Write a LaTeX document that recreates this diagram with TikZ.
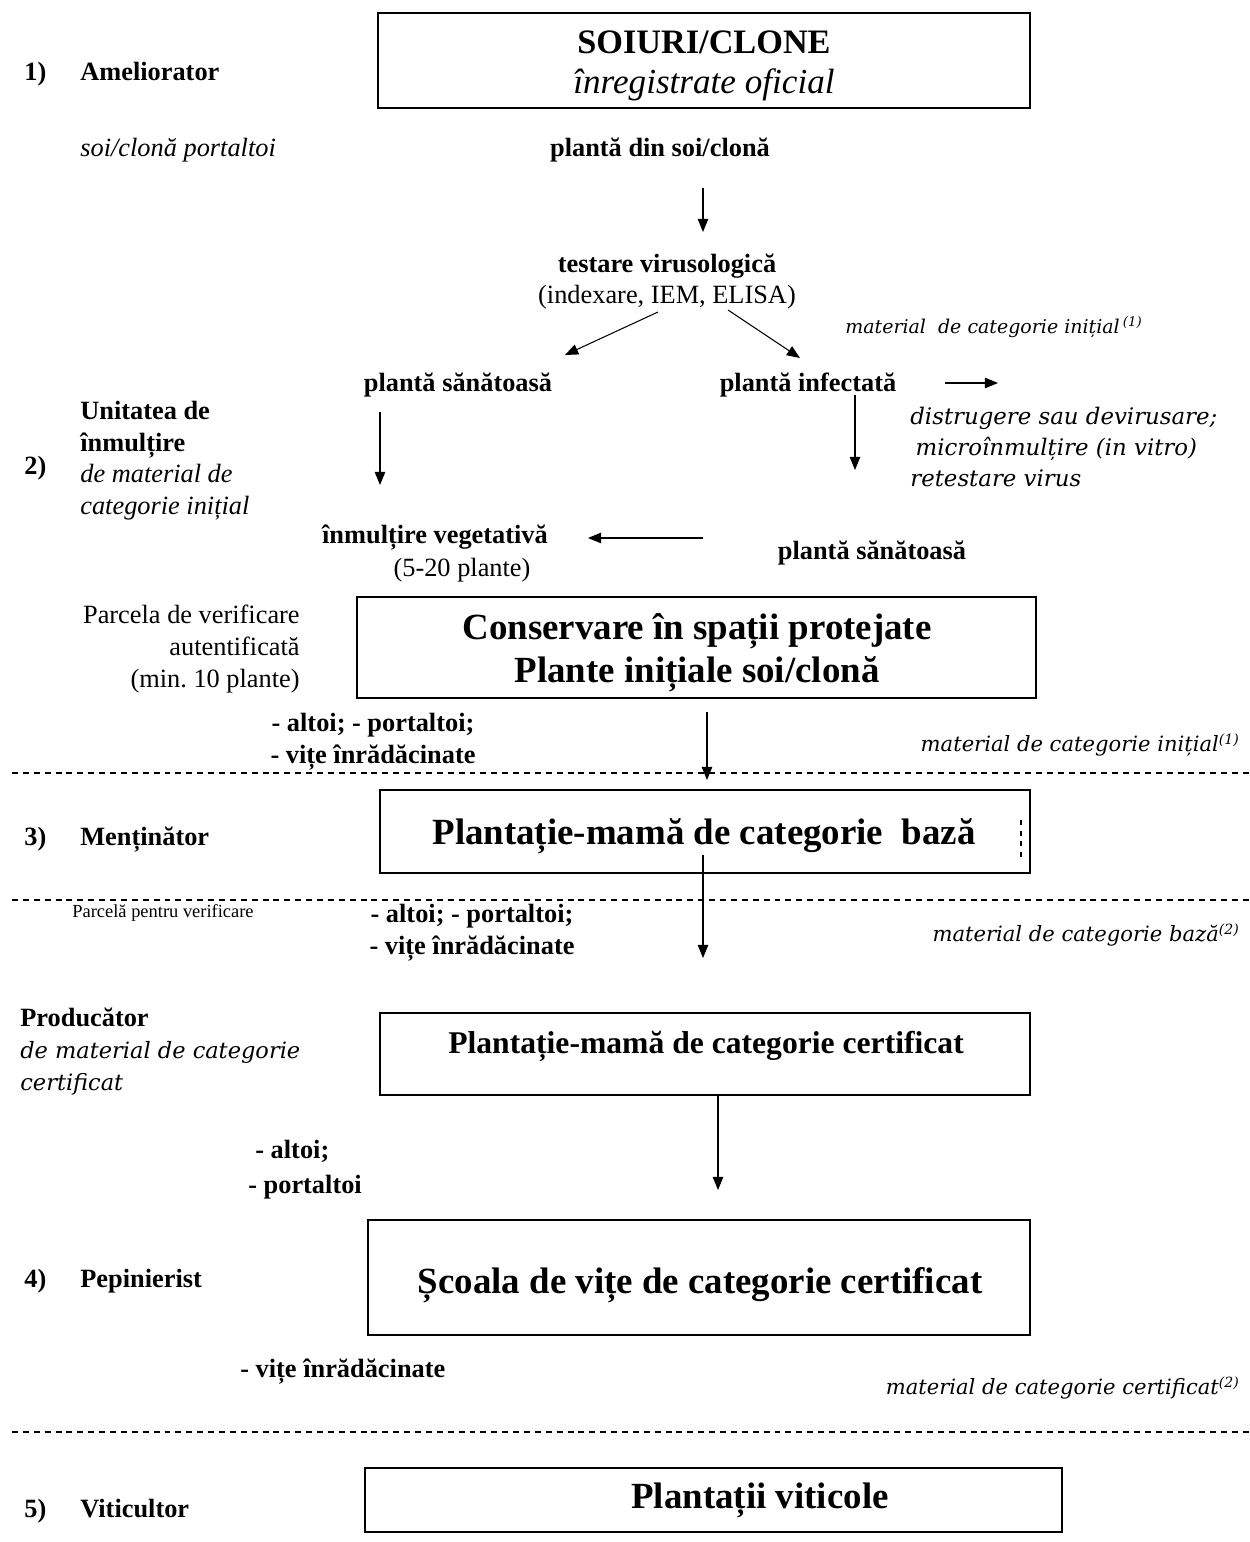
\documentclass[tikz,border=0pt]{standalone}
\usepackage{fontspec}
\setmainfont{Liberation Serif}
\newfontfamily\notefont{DejaVu Serif}
\usetikzlibrary{arrows.meta}

\begin{document}
\begin{tikzpicture}[x=0.02cm, y=-0.02cm,
    lbl/.style={font=\fontsize{15}{18}\selectfont\bfseries, inner sep=0pt},
    role/.style={lbl, anchor=base west},
    txt/.style={font=\fontsize{15}{18}\selectfont, inner sep=0pt},
    itl/.style={font=\fontsize{15}{18}\selectfont\itshape, inner sep=0pt},
    note/.style={font=\fontsize{12}{17.6}\selectfont\notefont\itshape, inner sep=0pt},
    box/.style={draw, line width=1pt, inner sep=0pt},
    big/.style={font=\fontsize{21}{24.5}\selectfont\bfseries, inner sep=0pt, align=center},
    arr/.style={-{Triangle[length=7.5pt,width=6pt]}, line width=0.6pt},
    sepline/.style={line width=0.8pt, dash pattern=on 3.4pt off 2.8pt}]
    \useasboundingbox (0,0) rectangle (1250,1542);

    % 1) ameliorator
    \node [role] (n1) at (24,80) {1)};
    \node [role] (amel) at (80,80) {Ameliorator};
    \node [box, minimum width=13.04cm, minimum height=1.9cm] (soiuri) at (704,60.5) {};
    \node [inner sep=0pt, align=center, font=\fontsize{19.5}{23.2}\selectfont] (soiuritxt) at (704,66)
        {\bfseries SOIURI/CLONE\\ \itshape\fontsize{20}{23.2}\selectfont înregistrate oficial};
    \node [itl, anchor=west] (soiport) at (80,150) {soi/clonă portaltoi};
    \node [lbl] (pdin) at (660,150) {plantă din soi/clonă};

    % testare
    \node [lbl, align=center] (testare) at (667,281.5) {testare virusologică\\ \mdseries(indexare, IEM, ELISA)};
    \node [note, font=\fontsize{10.8}{14}\selectfont\notefont\itshape, anchor=west] (note1) at (845,327)
        {material\ \ de categorie inițial\,\textsuperscript{(1)}};
    \node [lbl] (sanat) at (458,385) {plantă sănătoasă};
    \node [lbl] (infect) at (808,385) {plantă infectată};
    \node [note, font=\fontsize{13}{17.6}\selectfont\notefont\itshape, anchor=west, align=left] (distr) at (910,447)
        {distrugere sau devirusare;\\ \hspace{3pt}microînmulțire (in vitro)\\ retestare virus};

    % 2) unitatea de inmultire
    \node [role] (n2) at (24,474) {2)};
    \node [lbl, anchor=west, align=left] (unit) at (80,460.5)
        {Unitatea de\\ înmulțire\\ \mdseries\itshape de material de\\ \mdseries\itshape categorie inițial};
    \node [lbl] (inmv) at (435,538) {înmulțire vegetativă};
    \node [txt] (inmvn) at (462,570) {(5-20 plante)};
    \node [lbl] (sanat2) at (872,553) {plantă sănătoasă};
    \node [txt, anchor=east, align=right] (parcela) at (300,649)
        {Parcela de verificare\\ autentificată\\ (min.\ 10 plante)};
    \node [box, minimum width=13.58cm, minimum height=2.02cm] (conserv) at (696.5,647.5) {};
    \node [big] (conservtxt) at (697,653) {Conservare în spații protejate\\ Plante inițiale soi/clonă};
    \node [lbl, align=center] (altoi1) at (373,742) {- altoi; - portaltoi;\\ - vițe înrădăcinate};
    \node [note, anchor=east] (note2) at (1240,745) {material de categorie inițial\textsuperscript{(1)}};

    % 3) mentinator
    \node [role] (n3) at (24,845) {3)};
    \node [role] (ment) at (80,845) {Menținător};
    \node [box, minimum width=13cm, minimum height=1.66cm] (baza) at (705,831.5) {};
    \node [big] (bazatxt) at (704,836) {Plantație-mamă de categorie\ \ bază};
    \node [txt, font=\fontsize{10.5}{12}\selectfont, anchor=west] (parcela2) at (72,913) {Parcelă pentru verificare};
    \node [lbl, align=center] (altoi2) at (472,933) {- altoi; - portaltoi;\\ - vițe înrădăcinate};
    \node [note, anchor=east] (note3) at (1240,935) {material de categorie bază\textsuperscript{(2)}};

    % producator
    \node [lbl, anchor=west, align=left] (prod) at (20,1051.5)
        {Producător\\ \mdseries\notefont\itshape\fontsize{12.8}{17.6}\selectfont\makebox[5.6cm][s]{de material de categorie}\\
         \mdseries\notefont\itshape\fontsize{12.8}{17.6}\selectfont certificat};
    \node [box, minimum width=13cm, minimum height=1.64cm] (cert) at (705,1054) {};
    \node [big, font=\fontsize{18}{22}\selectfont\bfseries] (certtxt) at (706,1046)
        {Plantație-mamă de categorie certificat};
    \node [lbl, anchor=west, align=left] (altoi3) at (248,1170) {\hspace{4pt}- altoi;\\[2pt] - portaltoi};

    % 4) pepinierist
    \node [role] (n4) at (24,1287) {4)};
    \node [role] (pepi) at (80,1287) {Pepinierist};
    \node [box, minimum width=13.24cm, minimum height=2.3cm] (scoala) at (699,1277.5) {};
    \node [big] (scoalatxt) at (700,1285) {Școala de vițe de categorie certificat};
    \node [lbl, anchor=west] (vite) at (240,1372) {- vițe înrădăcinate};
    \node [note, anchor=east] (note4) at (1240,1388) {material de categorie certificat\textsuperscript{(2)}};

    % 5) viticultor
    \node [role] (n5) at (24,1517) {5)};
    \node [role] (vitic) at (80,1517) {Viticultor};
    \node [box, minimum width=13.94cm, minimum height=1.28cm] (plviti) at (713.5,1500) {};
    \node [big] (viticole) at (760,1500) {Plantații viticole};

    % separators
    \draw [sepline] (12,773) -- (1250,773);
    \draw [sepline] (12,900) -- (1250,900);
    \draw [sepline] (12,1432) -- (1250,1432);
    \draw [line width=0.6pt, dash pattern=on 3pt off 3pt] (baza.center) ++(316,-11.5) -- ++(0,40);

    % arrows
    \draw [arr] (pdin.center) ++(43,38) -- ++(0,44);
    \draw [arr] (testare.center) ++(-9,30.5) -- ++(-93,43);
    \draw [arr] (testare.center) ++(61,28.5) -- ++(72,48);
    \draw [arr] (infect.center) ++(137,-2) -- ++(53,0);
    \draw [arr] (sanat.center) ++(-78,27) -- ++(0,73);
    \draw [arr] (infect.center) ++(47,10) -- ++(0,75);
    \draw [arr] (sanat2.center) ++(-169,-15) -- ++(-115,0);
    \draw [arr] (conserv.center) ++(10.5,64.5) -- ++(0,68);
    \draw [arr] (baza.center) ++(-2,23.5) -- ++(0,103);
    \draw [arr] (cert.center) ++(13,41) -- ++(0,95);
\end{tikzpicture}
\end{document}
